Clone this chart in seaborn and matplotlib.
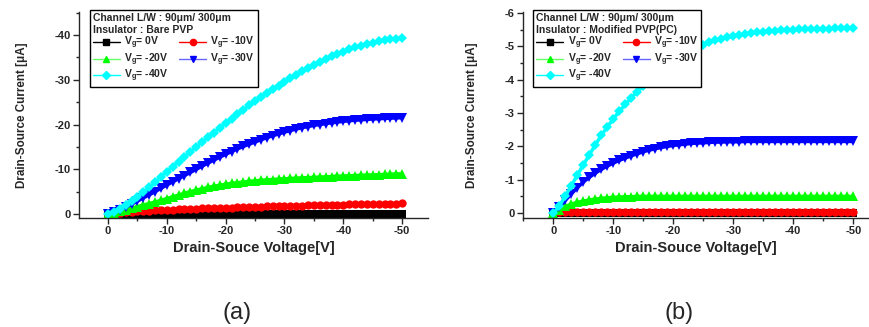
import numpy as np
import pandas as pd
import matplotlib
matplotlib.use("Agg")
import matplotlib.pyplot as plt
from matplotlib.lines import Line2D
from matplotlib.ticker import MultipleLocator
import seaborn as sns

sns.set_style("ticks")
plt.rcParams["font.family"] = ["Liberation Sans", "DejaVu Sans"]
plt.rcParams["axes.unicode_minus"] = False
plt.rcParams["mathtext.default"] = "regular"

# drain-source sweep, 1 V steps
vds = list(range(0, -51, -1))
gate_labels = ["0V", "-10V", "-20V", "-30V", "-40V"]

# (a) Bare PVP, Ids in uA
a_vg0 = [0.0, -0.02, -0.03, -0.04, -0.05, -0.06, -0.06, -0.07, -0.07, -0.08,
         -0.08, -0.08, -0.09, -0.09, -0.09, -0.1, -0.1, -0.1, -0.1, -0.1,
         -0.1, -0.1, -0.1, -0.1, -0.1, -0.1, -0.1, -0.1, -0.1, -0.1,
         -0.1, -0.1, -0.1, -0.1, -0.1, -0.1, -0.1, -0.1, -0.1, -0.1,
         -0.1, -0.1, -0.1, -0.1, -0.1, -0.1, -0.1, -0.1, -0.1, -0.1, -0.1]
a_vg10 = [0.0, -0.12, -0.25, -0.37, -0.48, -0.58, -0.67, -0.75, -0.82, -0.88,
          -0.94, -1.0, -1.05, -1.1, -1.15, -1.2, -1.25, -1.3, -1.34, -1.38,
          -1.42, -1.46, -1.5, -1.54, -1.58, -1.62, -1.66, -1.7, -1.74, -1.78,
          -1.82, -1.85, -1.88, -1.91, -1.94, -1.97, -2.0, -2.03, -2.06, -2.09,
          -2.12, -2.15, -2.18, -2.2, -2.23, -2.26, -2.29, -2.31, -2.34, -2.36, -2.38]
a_vg20 = [0.0, -0.3, -0.6, -0.95, -1.3, -1.65, -2.0, -2.35, -2.7, -3.05,
          -3.45, -3.85, -4.25, -4.65, -5.0, -5.35, -5.65, -5.95, -6.2, -6.45,
          -6.67, -6.85, -7.0, -7.15, -7.3, -7.42, -7.53, -7.63, -7.72, -7.8,
          -7.88, -7.95, -8.02, -8.08, -8.14, -8.2, -8.26, -8.32, -8.38, -8.44,
          -8.5, -8.55, -8.6, -8.65, -8.7, -8.75, -8.8, -8.85, -8.9, -8.95, -9.0]
a_vg30 = [0.0, -0.4, -0.9, -1.5, -2.2, -2.9, -3.6, -4.3, -5.0, -5.75,
          -6.5, -7.2, -7.9, -8.6, -9.3, -10.0, -10.7, -11.4, -12.05, -12.7,
          -13.35, -13.95, -14.55, -15.1, -15.6, -16.1, -16.6, -17.05, -17.5, -17.9,
          -18.3, -18.65, -19.0, -19.3, -19.55, -19.8, -20.0, -20.2, -20.4, -20.55,
          -20.7, -20.85, -20.95, -21.05, -21.15, -21.22, -21.3, -21.36, -21.42, -21.47, -21.52]
a_vg40 = [0.0, -0.5, -1.2, -2.0, -2.9, -3.9, -4.9, -6.0, -7.1, -8.3,
          -9.5, -10.6, -11.7, -12.8, -13.9, -15.0, -16.1, -17.15, -18.2, -19.25,
          -20.3, -21.3, -22.3, -23.3, -24.25, -25.2, -26.1, -27.0, -27.9, -28.7,
          -29.5, -30.3, -31.1, -31.85, -32.6, -33.3, -33.95, -34.6, -35.2, -35.75,
          -36.3, -36.75, -37.2, -37.6, -37.95, -38.3, -38.55, -38.8, -39.0, -39.15, -39.3]

# (b) Modified PVP(PC), Ids in uA
b_vg0 = [0.0, 0.0, 0.0, 0.0, 0.0, 0.0, 0.0, 0.0, 0.0, 0.0,
         0.0, 0.0, 0.0, 0.0, 0.0, 0.0, 0.0, 0.0, 0.0, 0.0,
         0.0, 0.0, 0.0, 0.0, 0.0, 0.0, 0.0, 0.0, 0.0, 0.0,
         0.0, 0.0, 0.0, 0.0, 0.0, 0.0, 0.0, 0.0, 0.0, 0.0,
         0.0, 0.0, 0.0, 0.0, 0.0, 0.0, 0.0, 0.0, 0.0, 0.0, 0.0]
b_vg10 = [0.0, -0.02, -0.02, -0.03, -0.03, -0.03, -0.03, -0.03, -0.03, -0.03,
          -0.03, -0.03, -0.03, -0.03, -0.03, -0.03, -0.03, -0.03, -0.03, -0.03,
          -0.03, -0.03, -0.03, -0.03, -0.03, -0.03, -0.03, -0.03, -0.03, -0.03,
          -0.03, -0.03, -0.03, -0.03, -0.03, -0.03, -0.03, -0.03, -0.03, -0.03,
          -0.03, -0.03, -0.03, -0.03, -0.03, -0.03, -0.03, -0.03, -0.03, -0.03, -0.03]
b_vg20 = [0.0, -0.1, -0.2, -0.27, -0.32, -0.36, -0.39, -0.42, -0.44, -0.46,
          -0.47, -0.48, -0.49, -0.49, -0.5, -0.5, -0.5, -0.5, -0.5, -0.5,
          -0.5, -0.5, -0.5, -0.5, -0.5, -0.5, -0.5, -0.5, -0.5, -0.5,
          -0.5, -0.5, -0.5, -0.5, -0.5, -0.5, -0.5, -0.5, -0.5, -0.5,
          -0.5, -0.5, -0.5, -0.5, -0.5, -0.5, -0.5, -0.5, -0.5, -0.5, -0.5]
b_vg30 = [0.0, -0.18, -0.38, -0.57, -0.76, -0.93, -1.07, -1.2, -1.31, -1.41,
          -1.5, -1.58, -1.65, -1.72, -1.78, -1.84, -1.89, -1.93, -1.97, -2.0,
          -2.03, -2.05, -2.07, -2.09, -2.1, -2.11, -2.12, -2.13, -2.13, -2.14,
          -2.14, -2.14, -2.15, -2.15, -2.15, -2.15, -2.15, -2.15, -2.15, -2.15,
          -2.15, -2.15, -2.15, -2.15, -2.15, -2.15, -2.15, -2.15, -2.15, -2.15, -2.15]
b_vg40 = [0.0, -0.2, -0.5, -0.82, -1.13, -1.44, -1.74, -2.04, -2.33, -2.58,
          -2.82, -3.05, -3.26, -3.46, -3.64, -3.81, -3.98, -4.13, -4.28, -4.42,
          -4.55, -4.67, -4.78, -4.88, -4.97, -5.05, -5.12, -5.18, -5.23, -5.27,
          -5.31, -5.34, -5.37, -5.4, -5.42, -5.44, -5.46, -5.47, -5.48, -5.49,
          -5.5, -5.51, -5.51, -5.52, -5.52, -5.53, -5.53, -5.54, -5.54, -5.55, -5.55]

colors = ["#000000", "#ff0000", "#00ff00", "#0000ff", "#00ffff"]
line_colors = ["#000000", "#ff0000", "#66ff66", "#6666ff", "#00ffff"]
markers = ["s", "o", "^", "v", "D"]
msizes = [5.5, 6, 7, 7, 5]


def make_df(series):
    rows = []
    for lab, ys in zip(gate_labels, series):
        for x, y in zip(vds, ys):
            rows.append({"Vds": x, "Ids": y, "Vg": lab})
    return pd.DataFrame(rows)


def draw_panel(ax, series, insulator, xlim, ylim, ymajor):
    df = make_df(series)
    for lab, c, m, ms in zip(gate_labels, colors, markers, msizes):
        sns.lineplot(data=df[df["Vg"] == lab], x="Vds", y="Ids", color=c,
                     marker=m, markersize=ms, markeredgewidth=0,
                     linewidth=2.5, sort=False, legend=False, ax=ax)
    ax.set_xlim(*xlim)
    ax.set_ylim(*ylim)
    ax.xaxis.set_major_locator(MultipleLocator(10))
    ax.xaxis.set_minor_locator(MultipleLocator(5))
    ax.yaxis.set_major_locator(MultipleLocator(ymajor))
    ax.yaxis.set_minor_locator(MultipleLocator(ymajor / 2))
    ax.tick_params(which="major", direction="out", length=4, width=1,
                   labelsize=8, pad=2)
    ax.tick_params(which="minor", direction="out", length=2.5, width=1)
    for t in ax.get_xticklabels() + ax.get_yticklabels():
        t.set_fontweight("bold")
    for s in ["left", "bottom"]:
        ax.spines[s].set_linewidth(1)
    sns.despine(ax=ax)
    ax.set_xlabel("Drain-Souce Voltage[V]", fontsize=10.5, fontweight="bold",
                  labelpad=3)
    ax.set_ylabel("Drain-Source Current [\u03bcA]", fontsize=8.4,
                  fontweight="bold", labelpad=19)

    handles = []
    for c, lc, m, lab in zip(colors, line_colors, markers, gate_labels):
        handles.append(Line2D([], [], color=lc, marker=m, markerfacecolor=c,
                              markeredgecolor=c, markersize=4.5, linewidth=1,
                              label="V$_g$= " + lab))
    order = [0, 2, 4, 1, 3]
    leg = ax.legend([handles[i] for i in order],
                    [handles[i].get_label() for i in order],
                    title="Channel L/W : 90\u03bcm/ 300\u03bcm\nInsulator : " + insulator,
                    ncol=2, loc="upper left", bbox_to_anchor=(0.03, 1.01),
                    borderaxespad=0, frameon=True, fancybox=False,
                    framealpha=1, edgecolor="black", alignment="left",
                    prop={"weight": "bold", "size": 7.5},
                    title_fontproperties={"weight": "bold", "size": 7.5},
                    handlelength=2.6, handleheight=0.4, handletextpad=0.4,
                    columnspacing=1.0, labelspacing=0.0, borderpad=0.3)
    leg.get_frame().set_linewidth(1)


fig, (ax1, ax2) = plt.subplots(1, 2, figsize=(8.7, 3.27), dpi=100)
ax1.set_position([0.091, 0.333, 0.401, 0.630])
ax2.set_position([0.601, 0.333, 0.397, 0.630])

draw_panel(ax1, [a_vg0, a_vg10, a_vg20, a_vg30, a_vg40], "Bare PVP",
           (4.9, -54.4), (0.9, -45.1), 10)
draw_panel(ax2, [b_vg0, b_vg10, b_vg20, b_vg30, b_vg40], "Modified PVP(PC)",
           (5.05, -52.5), (0.15, -6.03), 1)

fig.text(0.272, 0.043, "(a)", fontsize=17, ha="center", va="center")
fig.text(0.780, 0.043, "(b)", fontsize=17, ha="center", va="center")

fig.savefig("out.png", dpi=100)
